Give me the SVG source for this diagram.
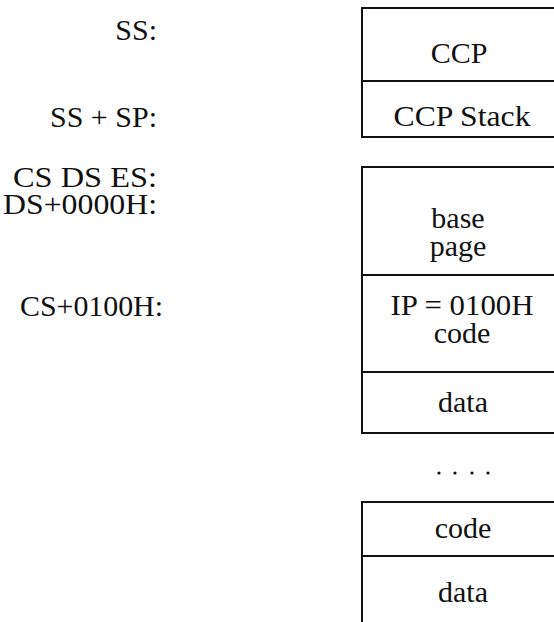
<svg xmlns="http://www.w3.org/2000/svg" width="554" height="622" viewBox="0 0 554 622">
<style>
  .box { fill: none; stroke: #111; stroke-width: 2; }
  .div { stroke: #111; stroke-width: 2; }
  text { font-family: "Liberation Serif", "Times New Roman", serif; font-size: 30px; fill: #111; }
  .c { text-anchor: middle; }
  .l { text-anchor: end; }
</style>
<rect x="0" y="0" width="554" height="622" fill="#fff"/>
<g id="labels">
  <text class="l" x="157" y="40">SS:</text>
  <text class="l" x="157" y="127">SS + SP:</text>
  <text class="l" x="157" y="187"><tspan x="157" y="187" textLength="144" lengthAdjust="spacingAndGlyphs">CS DS ES:</tspan><tspan x="157" y="214" textLength="154" lengthAdjust="spacingAndGlyphs">DS+0000H:</tspan></text>
  <text class="l" x="163" y="316" textLength="143" lengthAdjust="spacingAndGlyphs">CS+0100H:</text>
</g>
<g id="ccp-block">
  <rect class="box" x="362" y="8" width="220" height="129"/>
  <line class="div" x1="362" y1="81" x2="560" y2="81"/>
  <text class="c" x="459" y="63">CCP</text>
  <text class="c" x="462" y="126" textLength="137" lengthAdjust="spacingAndGlyphs">CCP Stack</text>
</g>
<g id="program-block">
  <rect class="box" x="362" y="167" width="220" height="266"/>
  <line class="div" x1="362" y1="275" x2="560" y2="275"/>
  <line class="div" x1="362" y1="372" x2="560" y2="372"/>
  <text class="c" x="458" y="228"><tspan x="458" y="228">base</tspan><tspan x="458" y="256">page</tspan></text>
  <text class="c" x="462" y="315"><tspan x="462" y="315" textLength="143" lengthAdjust="spacingAndGlyphs">IP = 0100H</tspan><tspan x="462" y="343">code</tspan></text>
  <text class="c" x="463" y="412">data</text>
</g>
<g id="ellipsis">
  <circle cx="439" cy="473" r="1.6" fill="#111"/>
  <circle cx="455" cy="473" r="1.6" fill="#111"/>
  <circle cx="472" cy="473" r="1.6" fill="#111"/>
  <circle cx="488" cy="473" r="1.6" fill="#111"/>
</g>
<g id="extra-block">
  <rect class="box" x="362" y="502" width="220" height="140"/>
  <line class="div" x1="362" y1="556" x2="560" y2="556"/>
  <text class="c" x="463" y="538">code</text>
  <text class="c" x="463" y="602">data</text>
</g>
<g id="connectors"></g>
</svg>
